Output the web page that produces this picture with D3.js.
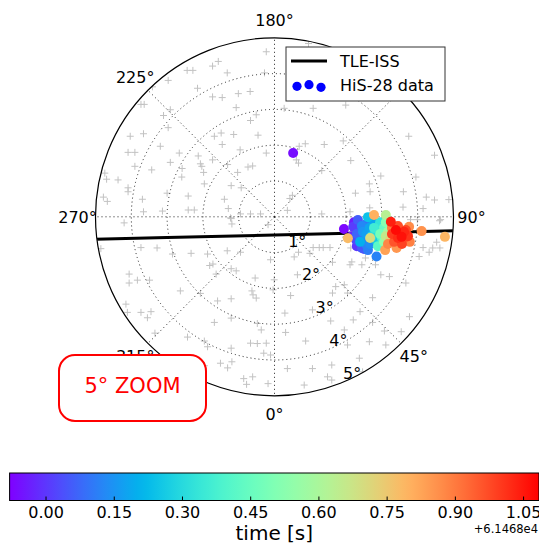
<!DOCTYPE html>
<html>
<head>
<meta charset="utf-8">
<script src="https://cdn.jsdelivr.net/npm/d3@7"></script>
<style>
body { margin: 0; background: #fff; }
svg text { font-family: "DejaVu Sans", sans-serif; }
</style>
</head>
<body>
<script>

// Background field sources, offset from the pointing centre [deg]
// ( x toward 90 deg, y toward 180 deg )
var field = [
    [-0.23,4.61],[-1.73,4.21],[-1.57,4.34],[-2.44,4.09],[-2.28,4.09],[-1.32,4.02],[-0.28,4.02],[-2.97,3.81],
    [-3.41,3.63],[-2.15,3.59],[-0.68,3.50],[-1.01,3.44],[-1.73,3.35],[-1.46,3.33],[-3.73,3.14],[-3.64,3.14],
    [-1.07,3.05],[-2.91,2.99],[-3.10,2.83],[-0.51,2.85],[-0.67,2.69],[-2.97,2.49],[-4.03,2.25],[-3.66,2.32],
    [-1.68,2.25],[-1.49,2.34],[-1.14,2.30],[-0.46,2.28],[-3.19,1.97],[-4.09,1.80],[-3.90,1.80],[-1.46,2.02],
    [-0.96,1.87],[-0.23,1.78],[-2.66,1.78],[-2.13,1.70],[-1.73,1.59],[-2.91,1.52],[-3.90,1.41],[-2.07,1.48],
    [-2.03,1.41],[-3.43,1.31],[-2.58,1.35],[-0.74,1.39],[-0.61,1.42],[-1.31,1.46],[-4.74,1.22],[-1.03,1.24],
    [-4.69,1.05],[-4.37,1.03],[-1.98,1.24],[-2.59,1.11],[-1.96,0.92],[-1.21,0.87],[-0.93,0.81],[-4.09,0.81],
    [-4.09,0.70],[-3.00,0.66],[-2.41,0.58],[-4.78,0.55],[-4.67,0.43],[-3.69,0.49],[-1.40,0.49],[-1.29,0.23],
    [-2.41,0.19],[-2.24,0.19],[-3.66,0.14],[-3.13,0.16],[-0.95,0.08],[-0.67,0.08],[-0.39,0.08],[-1.23,-0.03],
    [0.95,4.84],[0.27,3.03],[1.08,3.03],[1.99,3.12],[3.75,2.25],[0.86,2.04],[0.69,1.97],[1.39,2.02],
    [1.92,2.12],[4.47,1.72],[2.13,1.57],[0.61,1.59],[0.67,1.50],[1.32,1.29],[2.97,1.14],[3.95,1.11],
    [2.65,0.92],[2.67,0.70],[3.60,0.70],[4.24,0.55],[4.47,0.47],[2.26,0.66],[4.87,0.48],[0.50,0.60],
    [0.43,0.51],[0.36,0.18],[1.32,0.08],[2.11,0.14],
    [-4.20,-0.17],[-1.21,-0.05],[-1.19,-0.20],[-0.18,-0.22],[-4.85,-0.89],[-3.73,-0.86],[-3.28,-0.87],[-2.85,-1.04],
    [-2.33,-1.02],[-1.87,-1.04],[-1.32,-0.95],[-0.95,-0.99],[-0.11,-1.20],[-1.81,-1.36],[-1.72,-1.32],[-1.21,-1.45],
    [-1.07,-1.51],[-1.63,-1.60],[-4.06,-1.60],[-3.83,-1.77],[-4.06,-1.85],[-3.49,-1.77],[-0.54,-1.71],[-2.63,-2.07],
    [-2.07,-2.14],[-0.63,-2.07],[-0.60,-2.18],[-0.51,-2.27],[-4.15,-2.44],[-4.11,-2.67],[-3.73,-2.67],[-3.45,-2.65],
    [-3.55,-2.82],[-1.59,-2.35],[-1.21,-2.29],[-0.04,-2.04],[-1.68,-2.95],[-1.21,-2.83],[-0.48,-2.98],[-0.37,-3.16],
    [-3.34,-3.25],[-2.43,-3.36],[-1.96,-3.47],[-1.87,-3.63],[-0.67,-3.53],[-0.48,-3.54],[-0.23,-3.53],[-1.21,-3.67],
    [-0.30,-3.81],[-0.11,-3.86],[-1.51,-4.09],[-1.31,-4.22],[-1.19,-4.05],[-1.96,-4.16],[-0.86,-4.52],[-0.61,-4.47],
    [-0.78,-4.68],[-0.18,-4.66],
    [4.61,-0.11],[1.08,-0.86],[1.25,-0.86],[1.36,-0.86],[1.55,-0.86],[2.13,-0.87],[0.67,-0.99],[0.99,-1.02],
    [4.42,-0.87],[2.54,-1.15],[1.62,-1.27],[2.11,-1.34],[0.55,-1.12],[2.44,-1.34],[2.82,-1.34],[2.97,-1.62],
    [3.21,-1.67],[-0.01,-1.76],[0.64,-1.62],[1.71,-1.95],[1.95,-1.90],[3.67,-1.85],[1.62,-2.13],[2.04,-2.13],
    [0.45,-2.20],[2.74,-2.26],[0.29,-2.69],[1.06,-2.60],[2.39,-2.65],[3.77,-2.79],[2.74,-2.95],[2.20,-2.88],
    [1.57,-2.91],[0.31,-3.23],[0.87,-3.47],[3.54,-3.21],[3.07,-3.19],[1.95,-3.16],[2.04,-3.58],[2.65,-3.49],
    [3.11,-3.58],[2.37,-3.95],[0.36,-4.24],[1.06,-4.24],[1.60,-4.14],[1.48,-4.47],[1.60,-4.56],[2.46,-4.33],
    [0.83,-4.70],
    [3.59,0.27],[4.15,0.23],[3.80,-0.08],[3.99,-0.08],[4.64,-0.08],[4.15,-0.86],[4.32,-0.99],[4.04,-1.11],
    [4.53,-0.71],[4.62,-0.87],[2.66,0.25],[2.16,-1.26]
];

// TLE prediction of the ISS track [deg]
var trackX = [-6, -3, 0, 3, 6];
var trackY = [-0.65, -0.58, -0.51, -0.44, -0.37];

// HiS-28 detections: x offset, y offset [deg], time - 61468 [s]
var hisData = [
    [0.52,1.78,-0.06],
    [1.94,-0.34,-0.07],[2.22,-0.15,-0.04],[2.16,-0.54,-0.02],[2.30,-0.82,0.00],[2.39,-0.37,0.02],[2.28,-0.65,0.03],
    [2.20,-0.28,0.01],[2.50,-0.90,0.04],[2.30,-0.48,0.07],[2.62,-0.62,0.09],[2.47,-0.42,0.15],[2.66,-0.30,0.18],
    [2.58,-0.80,0.12],
    [2.44,-0.87,0.05],[2.33,-0.09,0.06],[2.50,-0.60,0.08],[2.56,-0.20,0.10],[2.61,-0.93,0.11],[2.85,-1.11,0.12],
    [2.44,-0.26,0.13],[2.67,-0.76,0.14],[2.72,-0.42,0.16],[2.56,-0.48,0.17],[2.78,-0.15,0.19],[2.39,-0.70,0.20],
    [2.61,-0.01,0.24],[2.84,-0.65,0.26],[2.89,-0.31,0.28],[2.72,-0.54,0.31],[2.95,-0.15,0.33],[2.78,-0.31,0.36],
    [3.00,-0.59,0.39],[2.89,-0.82,0.42],[3.06,-0.31,0.45],[2.95,-0.48,0.48],[3.11,-0.15,0.52],[3.06,-0.70,0.55],
    [3.17,-0.42,0.58],[3.11,0.05,0.63],[3.11,-0.54,0.66],[2.67,-0.59,0.70],[3.23,-0.65,0.72],
    [2.05,-0.60,0.78],[4.76,-0.56,0.79],[2.78,0.05,0.80],[3.09,-0.93,0.83],[3.41,-0.87,0.85],[4.11,-0.40,0.86],
    [3.76,-0.28,0.87],[3.17,-0.76,0.88],[3.78,-0.70,0.89],[3.28,-0.31,0.90],
    [3.39,-0.54,0.92],[3.51,-0.37,0.94],[3.62,-0.59,0.95],[3.34,-0.70,0.96],[3.45,-0.26,0.97],[3.67,-0.37,0.98],
    [3.56,-0.76,0.99],[3.28,-0.48,1.00],[3.73,-0.54,1.01],[3.45,-0.59,1.02],[3.62,-0.42,1.03],[3.25,-0.14,1.04],
    [3.55,-0.56,1.06],[3.39,-0.37,1.07]
];

// 135 deg label sits under the legend in the original, so it is left out
var thetaTicks = [0, 45, 90, 135, 180, 225, 270, 315];
var thetaLabels = [0, 45, 90, 180, 225, 270, 315];
var rTicks = [1, 2, 3, 4, 5];
var timeRange = [-0.079, 1.085];
var timeTicks = [0, 0.15, 0.30, 0.45, 0.60, 0.75, 0.90, 1.05];
var timeOffset = '+6.1468e4';

var width = 539,
    height = 545,
    cx = 274.5,
    cy = 216.8,
    R = 179,
    rMax = 5,
    bar = {left: 9.6, right: 539, top: 473, bottom: 500.5};

var x = d3.scaleLinear().domain( [-rMax, rMax] ).range( [cx - R, cx + R] ),
    y = d3.scaleLinear().domain( [-rMax, rMax] ).range( [cy + R, cy - R] ),
    r = d3.scaleLinear().domain( [0, rMax] ).range( [0, R] ),
    tNorm = d3.scaleLinear().domain( timeRange ).range( [0, 1] ).clamp( true ),
    tX = d3.scaleLinear().domain( timeRange ).range( [bar.left, bar.right] );

// matplotlib 'rainbow' colormap
function rainbow ( v ) {
    var c = function ( a ) { return Math.round( 255 * Math.max( 0, Math.min( 1, a ) ) ); };
    return d3.rgb( c( Math.abs( 2 * v - 0.5 ) ), c( Math.sin( Math.PI * v ) ), c( Math.cos( Math.PI * v / 2 ) ) ) + '';
}
function color ( t ) { return rainbow( tNorm( t ) ); }

// polar position, theta = 0 at the bottom, counter-clockwise
function PX ( theta, rad ) { return cx + r( rad ) * Math.sin( theta * Math.PI / 180 ); }
function PY ( theta, rad ) { return cy + r( rad ) * Math.cos( theta * Math.PI / 180 ); }

var svg = d3.select( 'body' ).append( 'svg' )
    .attr( 'width', width )
    .attr( 'height', height );

svg.append( 'clipPath' ).attr( 'id', 'disc' )
    .append( 'circle' ).attr( 'cx', cx ).attr( 'cy', cy ).attr( 'r', R );

var plot = svg.append( 'g' ).attr( 'clip-path', 'url(#disc)' );

// Background field crosses
plot.selectAll( '.field' ).data( field ).enter()
    .append( 'path' )
    .attr( 'class', 'field' )
    .attr( 'd', function ( d ) {
        var px = x( d[0] ), py = y( d[1] );
        return 'M' + ( px - 3.5 ) + ',' + py + 'H' + ( px + 3.5 ) + 'M' + px + ',' + ( py - 3.5 ) + 'V' + ( py + 3.5 );
    })
    .style( 'stroke', '#c2c2c2' )
    .style( 'stroke-width', 1 )
    .style( 'fill', 'none' );

// Grid
var grid = plot.append( 'g' )
    .style( 'stroke', '#222' )
    .style( 'stroke-width', 1 )
    .style( 'stroke-dasharray', '1,3' )
    .style( 'fill', 'none' );

grid.selectAll( '.ring' ).data( rTicks.slice( 0, -1 ) ).enter()
    .append( 'circle' )
    .attr( 'cx', cx ).attr( 'cy', cy )
    .attr( 'r', function ( d ) { return r( d ); } );

grid.selectAll( '.spoke' ).data( thetaTicks ).enter()
    .append( 'line' )
    .attr( 'x1', cx ).attr( 'y1', cy )
    .attr( 'x2', function ( d ) { return PX( d, rMax ); } )
    .attr( 'y2', function ( d ) { return PY( d, rMax ); } );

// TLE-ISS track
var line = d3.line()
    .x( function ( d, i ) { return x( trackX[i] ); } )
    .y( function ( d, i ) { return y( trackY[i] ); } );

plot.append( 'path' )
    .datum( trackX )
    .attr( 'd', line )
    .style( 'stroke', '#000' )
    .style( 'stroke-width', 3 )
    .style( 'fill', 'none' );

// HiS-28 points, drawn in time order
plot.selectAll( '.dot' ).data( hisData.slice().sort( function ( a, b ) { return a[2] - b[2]; } ) ).enter()
    .append( 'circle' )
    .attr( 'class', 'dot' )
    .attr( 'cx', function ( d ) { return x( d[0] ); } )
    .attr( 'cy', function ( d ) { return y( d[1] ); } )
    .attr( 'r', 5 )
    .style( 'fill', function ( d ) { return color( d[2] ); } );

// Outer circle
svg.append( 'circle' )
    .attr( 'cx', cx ).attr( 'cy', cy ).attr( 'r', R )
    .style( 'fill', 'none' )
    .style( 'stroke', '#000' )
    .style( 'stroke-width', 1.2 );

// Angle labels
svg.selectAll( '.tlabel' ).data( thetaLabels ).enter()
    .append( 'text' )
    .attr( 'x', function ( d ) { return cx + ( R + 18 ) * Math.sin( d * Math.PI / 180 ); } )
    .attr( 'y', function ( d ) { return cy + ( R + 18 ) * Math.cos( d * Math.PI / 180 ); } )
    .attr( 'text-anchor', 'middle' )
    .attr( 'dy', '0.36em' )
    .style( 'font-size', '16px' )
    .text( function ( d ) { return d + '\u00b0'; } );

// Radial labels
svg.selectAll( '.rlabel' ).data( rTicks ).enter()
    .append( 'text' )
    .attr( 'x', function ( d ) { return PX( 22.5, d ); } )
    .attr( 'y', function ( d ) { return PY( 22.5, d ) - 3; } )
    .style( 'font-size', '16px' )
    .text( function ( d ) { return d + '\u00b0'; } );

// Legend
var leg = svg.append( 'g' ).attr( 'transform', 'translate(286,47)' );
leg.append( 'rect' )
    .attr( 'width', 159 ).attr( 'height', 54 )
    .style( 'fill', '#fff' )
    .style( 'stroke', '#333' )
    .style( 'stroke-width', 1 );
leg.append( 'line' )
    .attr( 'x1', 5 ).attr( 'x2', 41 ).attr( 'y1', 14 ).attr( 'y2', 14 )
    .style( 'stroke', '#000' ).style( 'stroke-width', 3 );
leg.selectAll( '.ldot' ).data( [ [11, 39.3], [23, 37.7], [35, 40.3] ] ).enter()
    .append( 'circle' )
    .attr( 'cx', function ( d ) { return d[0]; } )
    .attr( 'cy', function ( d ) { return d[1]; } )
    .attr( 'r', 4.6 )
    .style( 'fill', '#0000ff' );
leg.selectAll( '.ltext' ).data( ['TLE-ISS', 'HiS-28 data'] ).enter()
    .append( 'text' )
    .attr( 'x', 54 )
    .attr( 'y', function ( d, i ) { return 19.5 + i * 24.5; } )
    .style( 'font-size', '16px' )
    .text( function ( d ) { return d; } );

// Zoom badge
svg.append( 'rect' )
    .attr( 'x', 59 ).attr( 'y', 355 ).attr( 'width', 147 ).attr( 'height', 66 )
    .attr( 'rx', 16 ).attr( 'ry', 16 )
    .style( 'fill', '#fff' )
    .style( 'stroke', '#ff0000' )
    .style( 'stroke-width', 2 );
svg.append( 'text' )
    .attr( 'x', 132.5 ).attr( 'y', 393 )
    .attr( 'text-anchor', 'middle' )
    .style( 'font-size', '21px' )
    .style( 'fill', '#ff0000' )
    .text( '5\u00b0 ZOOM' );

// Colorbar
var grad = svg.append( 'defs' ).append( 'linearGradient' )
    .attr( 'id', 'cmap' );
grad.selectAll( 'stop' ).data( d3.range( 0, 1.0001, 0.02 ) ).enter()
    .append( 'stop' )
    .attr( 'offset', function ( d ) { return d; } )
    .attr( 'stop-color', function ( d ) { return rainbow( d ); } );

svg.append( 'rect' )
    .attr( 'x', bar.left ).attr( 'y', bar.top )
    .attr( 'width', bar.right - bar.left ).attr( 'height', bar.bottom - bar.top )
    .style( 'fill', 'url(#cmap)' )
    .style( 'stroke', '#000' )
    .style( 'stroke-width', 1 );

var cAxis = svg.append( 'g' )
    .attr( 'transform', 'translate(0,' + bar.bottom + ')' )
    .call( d3.axisBottom( tX ).tickValues( timeTicks ).tickFormat( d3.format( '.2f' ) )
        .tickSizeInner( -4 ).tickSizeOuter( 0 ).tickPadding( 6 ) );
cAxis.select( '.domain' ).remove();
cAxis.selectAll( 'text' )
    .style( 'font-family', '"DejaVu Sans", sans-serif' )
    .style( 'font-size', '16px' );

svg.append( 'text' )
    .attr( 'x', ( bar.left + bar.right ) / 2 ).attr( 'y', 540 )
    .attr( 'text-anchor', 'middle' )
    .style( 'font-size', '20px' )
    .text( 'time [s]' );

svg.append( 'text' )
    .attr( 'x', 538 ).attr( 'y', 533 )
    .attr( 'text-anchor', 'end' )
    .style( 'font-size', '11.5px' )
    .text( timeOffset );

</script>
</body>
</html>
